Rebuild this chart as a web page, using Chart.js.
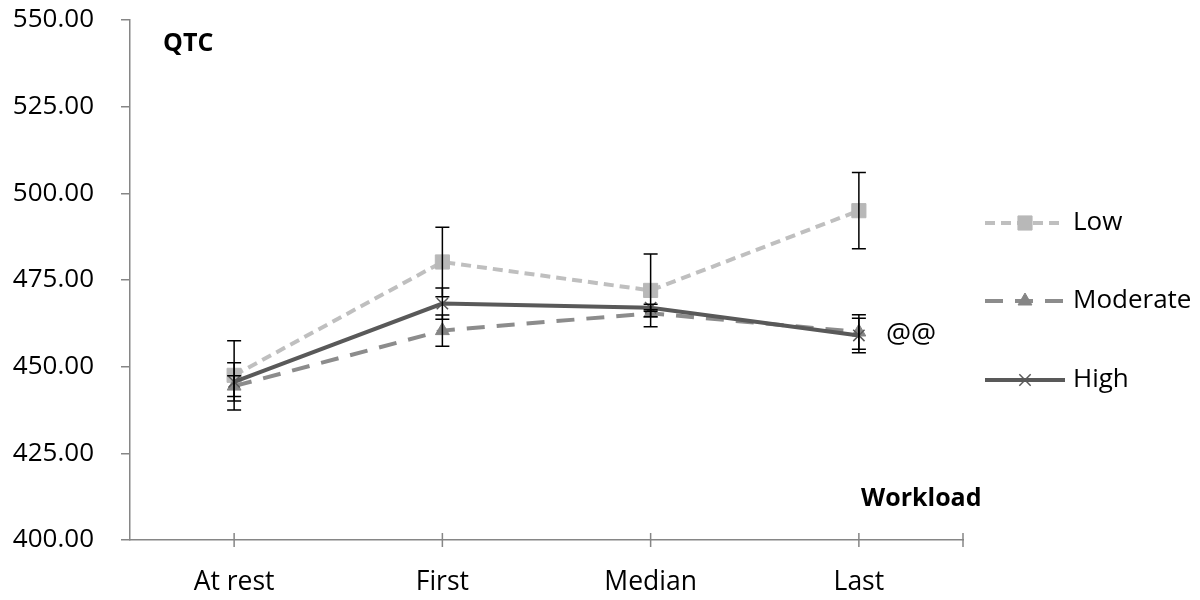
<!DOCTYPE html>
<html>
<head>
<meta charset="utf-8">
<script src="https://cdn.jsdelivr.net/npm/chart.js@4.4.0/dist/chart.umd.min.js"></script>
<style>
  html, body { margin: 0; padding: 0; background: #fff; }
  #wrap { width: 1200px; height: 600px; }
</style>
</head>
<body>
<div id="wrap"><canvas id="myChart" width="1200" height="600"></canvas></div>
<script>
// workload stages
const categories = ['At rest', 'First', 'Median', 'Last'];

// QTC means and error (+/-) per group
const lowValues = [447.5, 480.2, 472.0, 495.0];
const lowErr = [10, 10, 10.5, 11];
const moderateValues = [444.4, 460.4, 465.4, 460.0];
const moderateErr = [3, 4.5, 1, 5];
const highValues = [445.6, 468.2, 467.0, 459.0];
const highErr = [5.5, 4.5, 1, 5];

const yTicks = [400, 425, 450, 475, 500, 525, 550];

const font = "'Open Sans', 'DejaVu Sans', sans-serif";
const axisColor = '#868686';

const errors = [lowErr, moderateErr, highErr];

// error bars + x ticks + extra labels + legend
const extras = {
    id: 'extras',
    afterDatasetsDraw(chart) {
        const ctx = chart.ctx;
        const x = chart.scales.x;
        const y = chart.scales.y;
        ctx.save();
        ctx.strokeStyle = '#000';
        ctx.lineWidth = 1.5;
        chart.data.datasets.forEach((ds, i) => {
            ds.data.forEach((v, j) => {
                const e = errors[i][j];
                const px = x.getPixelForValue(j);
                const top = y.getPixelForValue(v + e);
                const bot = y.getPixelForValue(v - e);
                ctx.beginPath();
                ctx.moveTo(px, top); ctx.lineTo(px, bot);
                ctx.moveTo(px - 7, top); ctx.lineTo(px + 7, top);
                ctx.moveTo(px - 7, bot); ctx.lineTo(px + 7, bot);
                ctx.stroke();
            });
        });
        ctx.restore();
    },
    afterDraw(chart) {
        const ctx = chart.ctx;
        const x = chart.scales.x;
        const y = chart.scales.y;
        const area = chart.chartArea;
        ctx.save();

        // x ticks cross the axis at each category and at the end
        ctx.strokeStyle = axisColor;
        ctx.lineWidth = 1.5;
        const tickXs = categories.map((c, i) => x.getPixelForValue(i));
        tickXs.push(area.right);
        ctx.beginPath();
        tickXs.forEach(px => {
            ctx.moveTo(px, area.bottom - 7);
            ctx.lineTo(px, area.bottom + 7);
        });
        ctx.stroke();

        ctx.fillStyle = '#000';
        ctx.font = 'bold 25px ' + font;
        ctx.textBaseline = 'middle';
        ctx.textAlign = 'left';
        ctx.fillText('QTC', 163, 44);
        ctx.fillText('Workload', 861, 499);
        ctx.font = '28px ' + font;
        ctx.fillText('@@', x.getPixelForValue(3) + 27, y.getPixelForValue(highValues[3]));

        // legend
        const rows = [223, 301, 380];
        chart.data.datasets.forEach((ds, i) => {
            const ly = rows[i];
            ctx.strokeStyle = ds.borderColor;
            ctx.lineWidth = ds.borderWidth;
            ctx.setLineDash(ds.borderDash || []);
            ctx.beginPath();
            ctx.moveTo(985, ly); ctx.lineTo(1065, ly);
            ctx.stroke();
            ctx.setLineDash([]);
            ctx.fillStyle = ds.pointBackgroundColor;
            ctx.strokeStyle = ds.pointBorderColor;
            ctx.lineWidth = ds.pointBorderWidth;
            Chart.helpers.drawPoint(ctx, {
                pointStyle: ds.pointStyle,
                radius: ds.pointRadius,
                borderWidth: ds.pointBorderWidth
            }, 1025, ly);
            ctx.fillStyle = '#000';
            ctx.font = '26px ' + font;
            ctx.fillText(ds.label, 1073, ly);
        });
        ctx.restore();
    }
};

let ctx = document.getElementById('myChart');
let myChart = new Chart(ctx, {
    type: 'line',
    data: {
        labels: categories,
        datasets: [{
            label: 'Low',
            data: lowValues,
            borderColor: '#bfbfbf',
            borderWidth: 4,
            borderDash: [10, 6],
            pointStyle: 'rect',
            pointRadius: 10,
            pointBackgroundColor: '#b8b8b8',
            pointBorderColor: '#b8b8b8',
            pointBorderWidth: 1,
            tension: 0,
            order: 2
        }, {
            label: 'Moderate',
            data: moderateValues,
            borderColor: '#8c8c8c',
            borderWidth: 4,
            borderDash: [18, 12],
            pointStyle: 'triangle',
            pointRadius: 8,
            pointBackgroundColor: '#858585',
            pointBorderColor: '#858585',
            pointBorderWidth: 1,
            tension: 0,
            order: 1
        }, {
            label: 'High',
            data: highValues,
            borderColor: '#595959',
            borderWidth: 4,
            pointStyle: 'crossRot',
            pointRadius: 8,
            pointBackgroundColor: '#595959',
            pointBorderColor: '#595959',
            pointBorderWidth: 1.5,
            tension: 0,
            order: 0
        }]
    },
    options: {
        responsive: false,
        animation: false,
        layout: {
            padding: { left: 0, right: 237, top: 0, bottom: 0 }
        },
        plugins: {
            legend: { display: false },
            tooltip: { enabled: false }
        },
        scales: {
            x: {
                offset: true,
                grid: { display: false },
                border: { color: axisColor, width: 1.5 },
                ticks: {
                    color: '#000',
                    font: { family: font, size: 26.5 },
                    padding: 19,
                    maxRotation: 0
                },
                afterFit(scale) { scale.height = 60; }
            },
            y: {
                min: 400,
                max: 550,
                afterBuildTicks(scale) {
                    scale.ticks = yTicks.map(v => ({ value: v }));
                },
                grid: {
                    drawOnChartArea: false,
                    tickLength: 9,
                    color: axisColor,
                    lineWidth: 1.5
                },
                border: { color: axisColor, width: 1.5 },
                ticks: {
                    color: '#000',
                    font: { family: font, size: 26 },
                    padding: 27,
                    callback: v => v.toFixed(2)
                },
                afterFit(scale) {
                    scale.width = 130;
                    scale.paddingTop = 20;
                }
            }
        }
    },
    plugins: [extras]
});
</script>
</body>
</html>
